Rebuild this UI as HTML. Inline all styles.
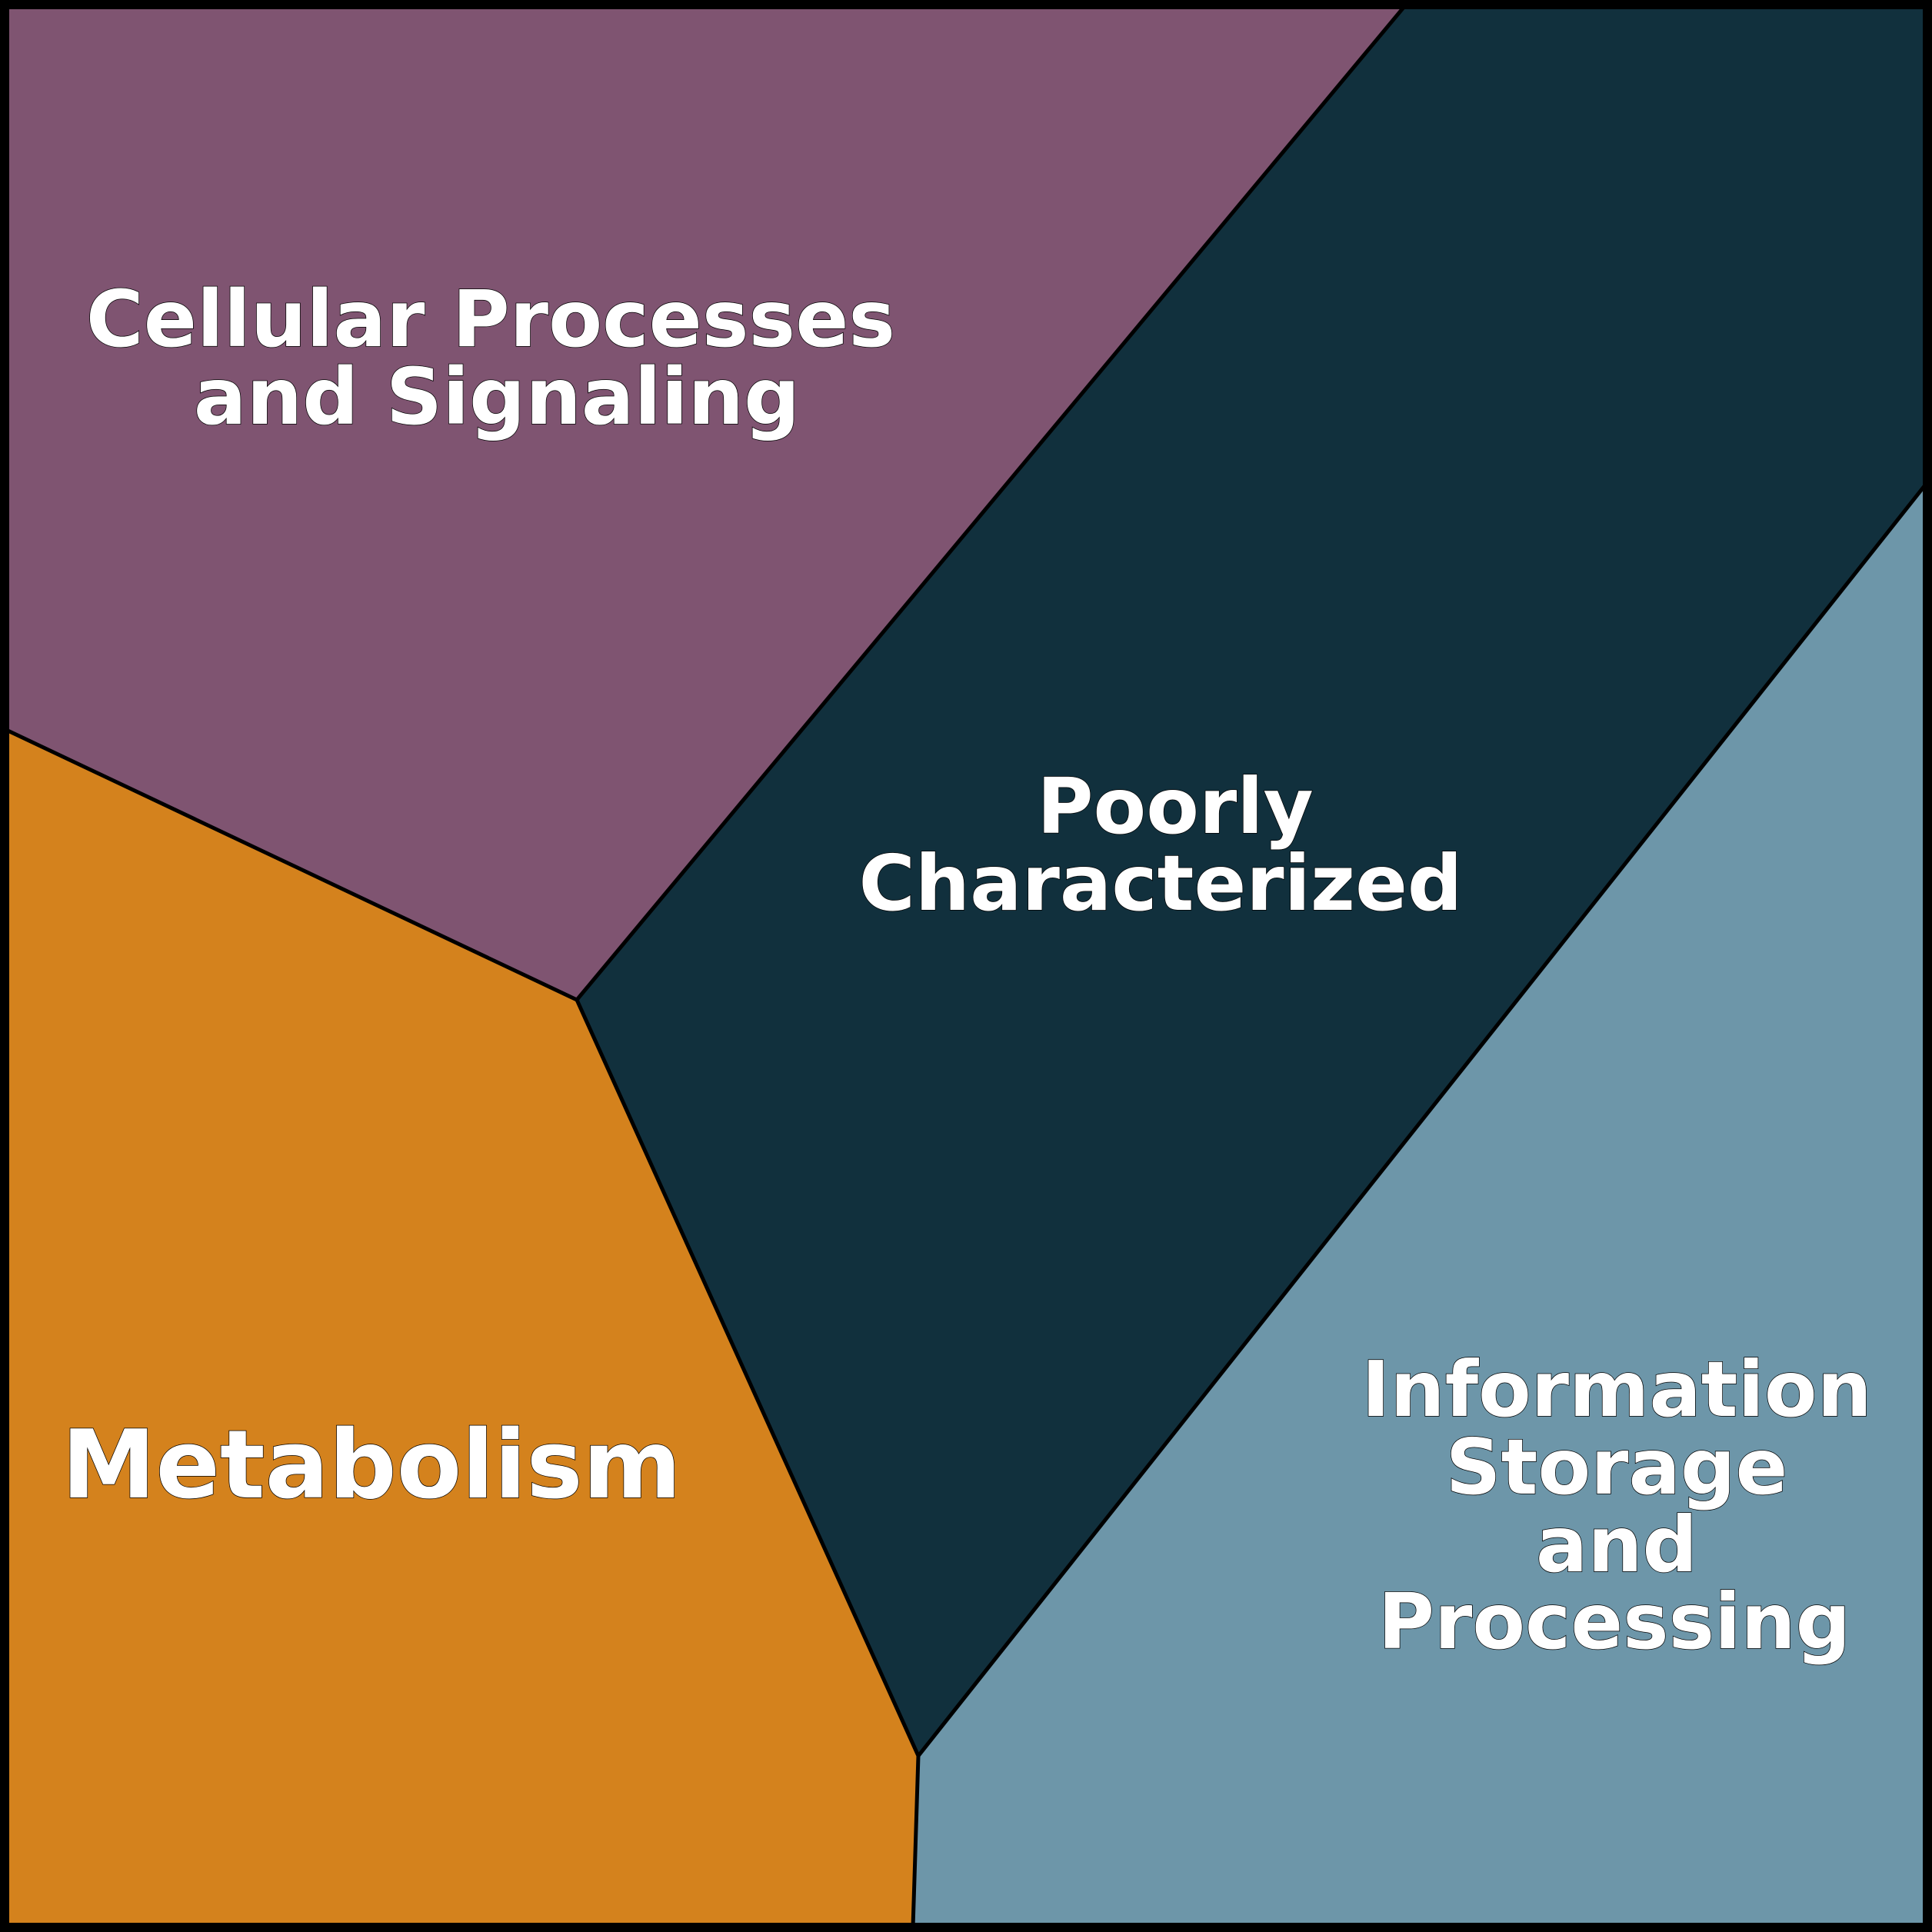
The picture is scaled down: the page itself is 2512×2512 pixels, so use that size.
<!DOCTYPE html>
<html>
<head>
<meta charset="utf-8">
<style>
html,body{margin:0;padding:0;background:#fff;}
svg{display:block;}
text{font-family:"DejaVu Sans","Liberation Sans",sans-serif;font-weight:bold;fill:#fff;stroke:#000;stroke-width:1.5;paint-order:stroke;text-anchor:middle;}
</style>
</head>
<body>
<svg width="2512" height="2512" viewBox="0 0 2512 2512" xmlns="http://www.w3.org/2000/svg">
  <rect x="0" y="0" width="2512" height="2512" fill="#000"/>
  <!-- regions -->
  <polygon points="6,6 1828,6 750,1300 6,948" fill="#7f5471"/>
  <polygon points="1828,6 2506,6 2506,627 1194,2283 750,1300" fill="#11303d"/>
  <polygon points="6,948 750,1300 1194,2283 1187,2506 6,2506" fill="#d4821d"/>
  <polygon points="2506,627 2506,2506 1187,2506 1194,2283" fill="#6d96a9"/>
  <!-- boundaries -->
  <g fill="none" stroke="#000" stroke-width="5" stroke-linejoin="miter">
    <polyline points="1828,6 750,1300 6,948"/>
    <polyline points="750,1300 1194,2283 2506,627"/>
    <polyline points="1194,2283 1187,2506"/>
  </g>
  <rect x="6" y="6" width="2500" height="2500" fill="none" stroke="#000" stroke-width="12"/>
  <!-- labels -->
  <text x="638" y="450" font-size="102">Cellular Processes</text>
  <text x="646" y="551" font-size="102">and Signaling</text>

  <text x="1528" y="1083" font-size="100">Poorly</text>
  <text x="1509" y="1183" font-size="100">Characterized</text>

  <text x="483" y="1947" font-size="123">Metabolism</text>

  <text x="2102" y="1841" font-size="100">Information</text>
  <text x="2102" y="1942" font-size="100">Storage</text>
  <text x="2102" y="2043" font-size="100">and</text>
  <text x="2099" y="2143" font-size="100">Processing</text>
</svg>
</body>
</html>
